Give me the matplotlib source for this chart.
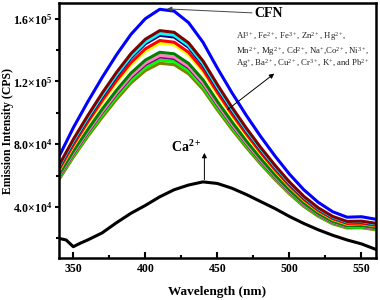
import matplotlib
matplotlib.use('Agg')
import matplotlib.pyplot as plt
from matplotlib.ticker import MultipleLocator, FixedLocator

plt.rcParams['font.family'] = ['Liberation Serif', 'DejaVu Serif']
plt.rcParams['mathtext.fontset'] = 'custom'
plt.rcParams['mathtext.rm'] = 'Liberation Serif'
plt.rcParams['mathtext.bf'] = 'Liberation Serif:bold'
plt.rcParams['mathtext.it'] = 'Liberation Serif:italic'

# wavelength grid (nm) and intensities in thousands of CPS
wavelength = [340, 350, 360, 370, 380, 390, 400, 410, 420, 430, 440, 450,
              460, 470, 480, 490, 500, 510, 520, 530, 540, 550, 560]

cfn = [72, 90.5, 107, 122.5, 137, 150, 160, 166, 164.8, 157.5, 145, 128.5,
       113, 98.5, 85, 72.5, 61, 51, 43, 37, 33.5, 33.8, 32.2]
maroon = [66.5, 83.1, 98.2, 112.5, 125.8, 137.7, 146.9, 152.4, 151.3, 144.6, 133.1, 118.0,
          103.7, 90.4, 78.0, 66.6, 56.0, 46.8, 39.5, 34.0, 30.8, 31.0, 29.6]
cyan = [65.7, 82.1, 97.0, 111.1, 124.3, 136.1, 145.1, 150.6, 149.5, 142.9, 131.5, 116.5,
        102.5, 89.3, 77.1, 65.8, 55.3, 46.3, 39.0, 33.6, 30.4, 30.7, 29.2]
navy = [65.2, 81.5, 96.3, 110.3, 123.3, 135.0, 144.0, 149.4, 148.3, 141.8, 130.5, 115.7,
        101.7, 88.7, 76.5, 65.3, 54.9, 45.9, 38.7, 33.3, 30.2, 30.4, 29.0]
red = [63.7, 79.6, 94.2, 107.8, 120.6, 132.0, 140.8, 146.1, 145.0, 138.6, 127.6, 113.1,
       99.4, 86.7, 74.8, 63.8, 53.7, 44.9, 37.8, 32.6, 29.5, 29.7, 28.3]
yellow = [63.0, 78.7, 93.1, 106.6, 119.2, 130.5, 139.2, 144.4, 143.4, 137.0, 126.2, 111.8,
          98.3, 85.7, 74.0, 63.1, 53.1, 44.4, 37.4, 32.2, 29.1, 29.4, 28.0]
green = [60.5, 75.6, 89.3, 102.3, 114.4, 125.3, 133.6, 138.6, 137.6, 131.5, 121.1, 107.3,
         94.4, 82.2, 71.0, 60.5, 50.9, 42.6, 35.9, 30.9, 28.0, 28.2, 26.9]
pink = [59.6, 74.5, 88.1, 100.8, 112.8, 123.5, 131.7, 136.6, 135.6, 129.6, 119.3, 105.8,
        93.0, 81.1, 70.0, 59.7, 50.2, 42.0, 35.4, 30.5, 27.6, 27.8, 26.5]
purple = [59.1, 73.9, 87.4, 100.1, 111.9, 122.6, 130.7, 135.6, 134.6, 128.7, 118.5, 105.0,
          92.3, 80.5, 69.4, 59.2, 49.8, 41.7, 35.1, 30.2, 27.4, 27.6, 26.3]
lime = [58.3, 72.9, 86.1, 98.6, 110.3, 120.8, 128.8, 133.6, 132.7, 126.8, 116.7, 103.4,
        91.0, 79.3, 68.4, 58.4, 49.1, 41.1, 34.6, 29.8, 27.0, 27.2, 25.9]
olive = [57.4, 71.8, 84.9, 97.1, 108.6, 119.0, 126.9, 131.6, 130.7, 124.9, 115.0, 101.9,
         89.6, 78.1, 67.4, 57.5, 48.4, 40.4, 34.1, 29.3, 26.6, 26.8, 25.5]

ca_wavelength = [340, 345, 350, 355, 360, 370, 380, 390, 400, 410, 420, 430, 440, 450,
                 460, 470, 480, 490, 500, 510, 520, 530, 540, 550, 560]
calcium = [20.0, 19.0, 14.7, 17.0, 19.0, 23.5, 30.0, 36.0, 41.0, 46.5, 51.0, 54.0, 56.0, 55.0,
           52.0, 48.0, 43.5, 39.0, 34.0, 29.5, 25.5, 22.0, 19.0, 16.5, 13.0]

ion_series = [olive, lime, purple, pink, green, yellow, red, navy, cyan, maroon]
ion_colors = ['#808000', '#00ff00', '#800080', '#ff80c0', '#008000',
              '#ffff00', '#ff0000', '#000080', '#00ffff', '#800000']

y_ticks = [40000, 80000, 120000, 160000]
y_tick_labels = [r'$\mathbf{4.0{\times}10^4}$', r'$\mathbf{8.0{\times}10^4}$',
                 r'$\mathbf{1.2{\times}10^5}$', r'$\mathbf{1.6{\times}10^5}$']

ion_lines = ['Al$^{3+}$, Fe$^{2+}$, Fe$^{3+}$, Zn$^{2+}$, Hg$^{2+}$,',
             'Mn$^{2+}$, Mg$^{2+}$, Cd$^{2+}$, Na$^{+}$,Co$^{2+}$, Ni$^{3+}$,',
             'Ag$^{+}$, Ba$^{2+}$, Cu$^{2+}$, Cr$^{3+}$, K$^{+}$, and Pb$^{2+}$']


fig = plt.figure(figsize=(3.8, 3.0), dpi=100)
ax = fig.add_axes([0.155, 0.14, 0.834, 0.85])

for values, color in zip(ion_series, ion_colors):
    ax.plot(wavelength, [v * 1000 for v in values], color=color, linewidth=2.2)
ax.plot(wavelength, [v * 1000 for v in cfn], color='#0000ff', linewidth=2.2)
ax.plot(ca_wavelength, [v * 1000 for v in calcium], color='black', linewidth=2.2)

ax.set_xlim(340, 560)
ax.set_ylim(7500, 170000)

ax.xaxis.set_major_locator(MultipleLocator(50))
ax.xaxis.set_minor_locator(MultipleLocator(25))
ax.yaxis.set_major_locator(FixedLocator(y_ticks))
ax.yaxis.set_minor_locator(MultipleLocator(20000))
ax.set_yticklabels(y_tick_labels)
ax.tick_params(axis='x', which='both', direction='in', labelsize=8.5, width=1.5)
ax.tick_params(axis='x', which='major', length=4)
ax.tick_params(axis='x', which='minor', length=2.5)
ax.tick_params(axis='y', which='both', direction='out', labelsize=8.5, width=1.5, pad=2)
ax.tick_params(axis='y', which='major', length=3)
ax.tick_params(axis='y', which='minor', length=2)
for lab in ax.get_xticklabels():
    lab.set_fontweight('bold')
for spine in ax.spines.values():
    spine.set_linewidth(1.8)

ax.set_xlabel('Wavelength (nm)', fontsize=9.5, fontweight='bold', labelpad=8)
ax.set_ylabel('Emission Intensity (CPS)', fontsize=8.5, fontweight='bold')
ax.yaxis.set_label_coords(-0.143, 0.5)

ax.annotate('CFN', xy=(414, 166300), xytext=(476, 163200), fontsize=10, fontweight='bold',
            va='center', ha='left',
            arrowprops=dict(arrowstyle='-|>', color='#444444', lw=0.7, mutation_scale=7,
                            shrinkA=0, shrinkB=1))
for line, y in zip(ion_lines, [148500, 139100, 131700]):
    ax.text(463, y, line, fontsize=6.3, ha='left', va='center', color='#222222')
ax.annotate('', xy=(489.5, 125000), xytext=(457, 102000),
            arrowprops=dict(arrowstyle='-|>', color='black', lw=0.7, mutation_scale=7,
                            shrinkA=0, shrinkB=0))
ax.text(428, 78000, r'$\mathbf{Ca^{2+}}$', fontsize=10, ha='center', va='center')
ax.annotate('', xy=(441, 74500), xytext=(441, 57500),
            arrowprops=dict(arrowstyle='-|>', color='black', lw=0.7, mutation_scale=7,
                            shrinkA=0, shrinkB=0))

fig.savefig('out.png', dpi=100)
